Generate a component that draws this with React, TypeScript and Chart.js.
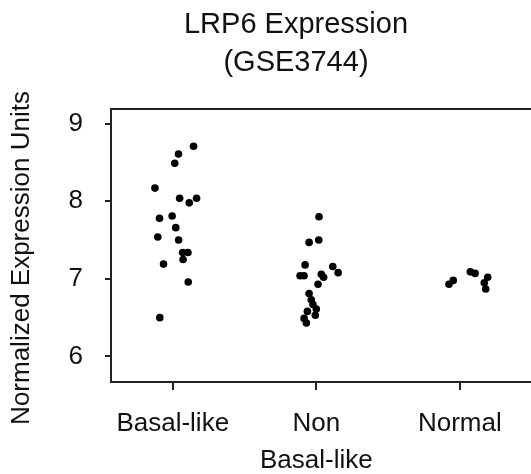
import React, { useEffect, useRef } from "react";
import { Chart, registerables } from "chart.js";

Chart.register(...registerables);

const categories: string[][] = [["Basal-like"], ["Non", "Basal-like"], ["Normal"]];
const yTicks = [6, 7, 8, 9];

const basalValues = [8.71, 8.61, 8.49, 8.17, 8.04, 8.04, 7.98, 7.78, 7.81, 7.66, 7.54, 7.5, 7.34, 7.34, 7.25, 7.19, 6.96, 6.5];
const basalJitter = [0.145, 0.04, 0.014, -0.124, 0.048, 0.166, 0.115, -0.092, -0.004, 0.021, -0.104, 0.041, 0.069, 0.106, 0.072, -0.064, 0.108, -0.09];

const nonBasalValues = [7.8, 7.47, 7.5, 7.18, 7.16, 7.04, 7.04, 7.06, 7.02, 7.08, 6.93, 6.81, 6.73, 6.67, 6.61, 6.58, 6.53, 6.49, 6.43];
const nonBasalJitter = [0.019, -0.05, 0.017, -0.078, 0.115, -0.113, -0.085, 0.035, 0.051, 0.152, 0.012, -0.05, -0.035, -0.023, 0, -0.062, -0.007, -0.085, -0.069];

const normalValues = [6.93, 6.98, 7.09, 7.07, 7.02, 6.95, 6.87];
const normalJitter = [-0.076, -0.046, 0.073, 0.106, 0.194, 0.17, 0.18];

const groups = [
  { values: basalValues, jitter: basalJitter },
  { values: nonBasalValues, jitter: nonBasalJitter },
  { values: normalValues, jitter: normalJitter },
];

const FONT = "'Liberation Sans', Arial, Helvetica, sans-serif";
const AXIS_COLOR = "#222";

export default function App() {
  const ref = useRef<HTMLCanvasElement | null>(null);

  useEffect(() => {
    if (!ref.current) return;
    const frame = {
      id: "frameAndYTitle",
      afterDraw(chart: any) {
        const { ctx, chartArea } = chart;
        ctx.save();
        ctx.strokeStyle = AXIS_COLOR;
        ctx.lineWidth = 2;
        ctx.beginPath();
        ctx.moveTo(chartArea.left - 1, chartArea.top);
        ctx.lineTo(chartArea.right, chartArea.top);
        ctx.stroke();
        ctx.translate(22, 258);
        ctx.rotate(-Math.PI / 2);
        ctx.fillStyle = "#111";
        ctx.font = `26px ${FONT}`;
        ctx.textAlign = "center";
        ctx.textBaseline = "middle";
        ctx.fillText("Normalized Expression Units", 0, 0);
        ctx.restore();
      },
    };

    const chart = new Chart(ref.current, {
      type: "scatter",
      data: {
        datasets: groups.map((g, ci) => ({
          label: categories[ci].join(" "),
          data: g.values.map((v, i) => ({ x: ci + g.jitter[i], y: v })),
          backgroundColor: "#000",
          borderWidth: 0,
          pointRadius: 3.8,
          pointHoverRadius: 3.8,
        })),
      },
      options: {
        animation: false,
        responsive: false,
        devicePixelRatio: 1,
        layout: { padding: 0 },
        plugins: {
          legend: { display: false },
          tooltip: { enabled: false },
          title: {
            display: true,
            text: ["LRP6 Expression", "(GSE3744)"],
            color: "#111",
            font: { family: FONT, size: 29, weight: "normal", lineHeight: 38 / 29 },
            padding: { top: 6, bottom: 27 },
          },
        },
        scales: {
          x: {
            type: "linear",
            min: -0.43,
            max: 2.894,
            afterBuildTicks: (scale: any) => {
              scale.ticks = categories.map((_, i) => ({ value: i }));
            },
            afterFit: (scale: any) => {
              scale.height = 92;
            },
            ticks: {
              autoSkip: false,
              maxRotation: 0,
              padding: 15,
              color: "#111",
              font: { family: FONT, size: 26, lineHeight: 37 / 26 },
              callback: (v: any) => categories[Math.round(Number(v))] ?? "",
            },
            grid: {
              drawOnChartArea: false,
              drawTicks: true,
              tickLength: 8,
              color: AXIS_COLOR,
              lineWidth: 2,
            },
            border: { display: true, color: AXIS_COLOR, width: 2 },
          },
          y: {
            type: "linear",
            min: 5.67,
            max: 9.19,
            afterBuildTicks: (scale: any) => {
              scale.ticks = yTicks.map((v) => ({ value: v }));
            },
            afterFit: (scale: any) => {
              scale.width = 111;
            },
            ticks: {
              padding: 22,
              color: "#111",
              font: { family: FONT, size: 26 },
            },
            grid: {
              drawOnChartArea: false,
              drawTicks: true,
              tickLength: 6,
              color: AXIS_COLOR,
              lineWidth: 2,
            },
            border: { display: true, color: AXIS_COLOR, width: 2 },
          },
        },
      },
      plugins: [frame],
    } as any);
    return () => chart.destroy();
  }, []);

  return (
    <div style={{ position: "fixed", left: 0, top: 0, width: 531, height: 474, overflow: "hidden", background: "#fff" }}>
      <canvas ref={ref} width={592} height={474} style={{ display: "block" }} />
    </div>
  );
}
